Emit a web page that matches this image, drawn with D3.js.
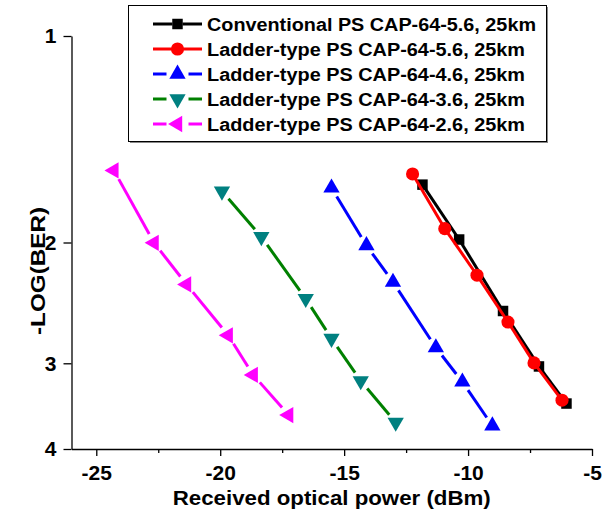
<!DOCTYPE html>
<html>
<head>
<meta charset="utf-8">
<script src="https://cdn.jsdelivr.net/npm/d3@7"></script>
<style>
    body { margin: 0; background: #fff; }
    svg { display: block; font-family: "Liberation Sans", Arial, sans-serif; font-weight: bold; }
</style>
</head>
<body>
<svg id="chart" width="616" height="514"></svg>
<script>
// ========== Data ==========

const seriesNames = [
    "Conventional PS CAP-64-5.6, 25km",
    "Ladder-type PS CAP-64-5.6, 25km",
    "Ladder-type PS CAP-64-4.6, 25km",
    "Ladder-type PS CAP-64-3.6, 25km",
    "Ladder-type PS CAP-64-2.6, 25km"
];

// received optical power (dBm) and -log(BER)
const powerConv56 = [-11.84, -10.36, -8.59, -7.14, -6.03];
const berConv56 = [1.647, 1.980, 2.517, 3.032, 3.434];

const powerLad56 = [-12.24, -10.94, -9.64, -8.39, -7.34, -6.21];
const berLad56 = [1.589, 1.909, 2.232, 2.612, 2.996, 3.396];

const powerLad46 = [-15.51, -14.10, -13.03, -11.30, -10.23, -9.02];
const berLad46 = [1.665, 2.020, 2.284, 2.846, 3.193, 3.700];

const powerLad36 = [-19.93, -18.34, -16.55, -15.51, -14.33, -12.92];
const berLad36 = [1.684, 1.962, 2.415, 2.761, 3.183, 3.659];

const powerLad26 = [-24.29, -22.67, -21.36, -19.68, -18.67, -17.24];
const berLad26 = [1.570, 2.002, 2.302, 2.731, 3.119, 3.569];

const xTicks = [-25, -20, -15, -10, -5];
const xMinorTicks = [-22.5, -17.5, -12.5, -7.5];
const yTicks = [1, 2, 3, 4];

// ========== Styling per series ==========

const styles = [
    { line: "#000000", fill: "#000000", symbol: d3.symbolSquare, size: 110, rotate: 0, gap: 3 },
    { line: "#ff0000", fill: "#ff0000", symbol: d3.symbolCircle, size: 135, rotate: 0, gap: 3 },
    { line: "#0000ff", fill: "#0000ff", symbol: d3.symbolTriangle, size: 115, rotate: 0, gap: 10 },
    { line: "#008000", fill: "#008080", symbol: d3.symbolTriangle, size: 115, rotate: 180, gap: 10 },
    { line: "#ff00ff", fill: "#ff00ff", symbol: d3.symbolTriangle, size: 115, rotate: -90, gap: 10 }
];

const series = [
    [powerConv56, berConv56],
    [powerLad56, berLad56],
    [powerLad46, berLad46],
    [powerLad36, berLad36],
    [powerLad26, berLad26]
].map(([xs, ys], i) => ({
    name: seriesNames[i],
    style: styles[i],
    points: xs.map((x, j) => ({ x: x, y: ys[j] }))
}));

// ========== Chart ==========

const svg = d3.select("#chart");

const x = d3.scaleLinear().domain([-26, -5]).range([71.5, 592]);
const y = d3.scaleLog().domain([1, 4]).range([36, 449]);
const axisY = 449;

// axes (plain hyphen for minus, like the original)
const xAxis = svg.append("g")
    .attr("transform", `translate(0,${axisY})`)
    .call(d3.axisBottom(x).tickValues(xTicks).tickSize(7).tickSizeOuter(0).tickFormat(d => String(d)));
xAxis.selectAll("text")
    .attr("y", 16)
    .style("font-size", "21px")
    .style("font-weight", "bold")
    .style("font-family", "'Liberation Sans', Arial, sans-serif")
    .attr("fill", "#000");

svg.append("g")
    .attr("transform", `translate(0,${axisY})`)
    .call(d3.axisBottom(x).tickValues(xMinorTicks).tickSize(4).tickSizeOuter(0).tickFormat(""))
    .select(".domain").remove();

const yAxis = svg.append("g")
    .attr("transform", `translate(${x.range()[0]},0)`)
    .call(d3.axisLeft(y).tickValues(yTicks).tickSize(8).tickPadding(7).tickSizeOuter(0).tickFormat(d => String(d)));
yAxis.selectAll("text")
    .style("font-size", "21px")
    .style("font-weight", "bold")
    .style("font-family", "'Liberation Sans', Arial, sans-serif")
    .attr("fill", "#000");

svg.selectAll(".domain, .tick line").attr("stroke", "#000").attr("stroke-width", 1.3);

// titles
svg.append("text")
    .attr("x", (x.range()[0] + x.range()[1]) / 2)
    .attr("y", 505)
    .attr("text-anchor", "middle")
    .attr("textLength", 318)
    .attr("lengthAdjust", "spacingAndGlyphs")
    .style("font-size", "21px")
    .text("Received optical power (dBm)");

svg.append("text")
    .attr("transform", "translate(45,271) rotate(-90)")
    .attr("text-anchor", "middle")
    .attr("textLength", 128)
    .attr("lengthAdjust", "spacingAndGlyphs")
    .style("font-size", "21px")
    .text("-LOG(BER)");

// line segments with small gaps near markers
function segments(points, gap) {
    const out = [];
    for (let i = 0; i < points.length - 1; i++) {
        const x1 = x(points[i].x), y1 = y(points[i].y);
        const x2 = x(points[i + 1].x), y2 = y(points[i + 1].y);
        const len = Math.hypot(x2 - x1, y2 - y1);
        const ux = (x2 - x1) / len, uy = (y2 - y1) / len;
        out.push({ x1: x1 + ux * gap, y1: y1 + uy * gap, x2: x2 - ux * gap, y2: y2 - uy * gap });
    }
    return out;
}

series.forEach(s => {
    const g = svg.append("g");
    g.selectAll("line")
        .data(segments(s.points, s.style.gap))
        .join("line")
        .attr("x1", d => d.x1).attr("y1", d => d.y1)
        .attr("x2", d => d.x2).attr("y2", d => d.y2)
        .attr("stroke", s.style.line)
        .attr("stroke-width", 3);

    g.selectAll("path")
        .data(s.points)
        .join("path")
        .attr("d", d3.symbol().type(s.style.symbol).size(s.style.size))
        .attr("transform", d => `translate(${x(d.x)},${y(d.y)}) rotate(${s.style.rotate})`)
        .attr("fill", s.style.fill);
});

// ========== Legend ==========

const legend = svg.append("g");
const box = { x: 128.5, y: 5.5, w: 418, h: 136 };

legend.append("rect")
    .attr("x", box.x + 1.5).attr("y", box.y + 1.5)
    .attr("width", box.w).attr("height", box.h)
    .attr("fill", "#888");
legend.append("rect")
    .attr("x", box.x).attr("y", box.y)
    .attr("width", box.w).attr("height", box.h)
    .attr("fill", "#fff")
    .attr("stroke", "#000")
    .attr("stroke-width", 1);

const legendWidths = [329, 318, 318, 318, 318];

series.forEach((s, i) => {
    const ly = 24 + i * 25;
    const row = legend.append("g");
    const x0 = 153, x1 = 202, xm = 177.5, gap = s.style.gap === 3 ? 5 : 11;
    row.append("line")
        .attr("x1", x0).attr("x2", xm - gap).attr("y1", ly).attr("y2", ly)
        .attr("stroke", s.style.line).attr("stroke-width", 3);
    row.append("line")
        .attr("x1", xm + gap).attr("x2", x1).attr("y1", ly).attr("y2", ly)
        .attr("stroke", s.style.line).attr("stroke-width", 3);
    row.append("path")
        .attr("d", d3.symbol().type(s.style.symbol).size(s.style.size))
        .attr("transform", `translate(${xm},${ly}) rotate(${s.style.rotate})`)
        .attr("fill", s.style.fill);
    row.append("text")
        .attr("x", 207)
        .attr("y", ly + 6.5)
        .attr("textLength", legendWidths[i])
        .attr("lengthAdjust", "spacingAndGlyphs")
        .style("font-size", "18px")
        .text(s.name);
});
</script>
</body>
</html>
